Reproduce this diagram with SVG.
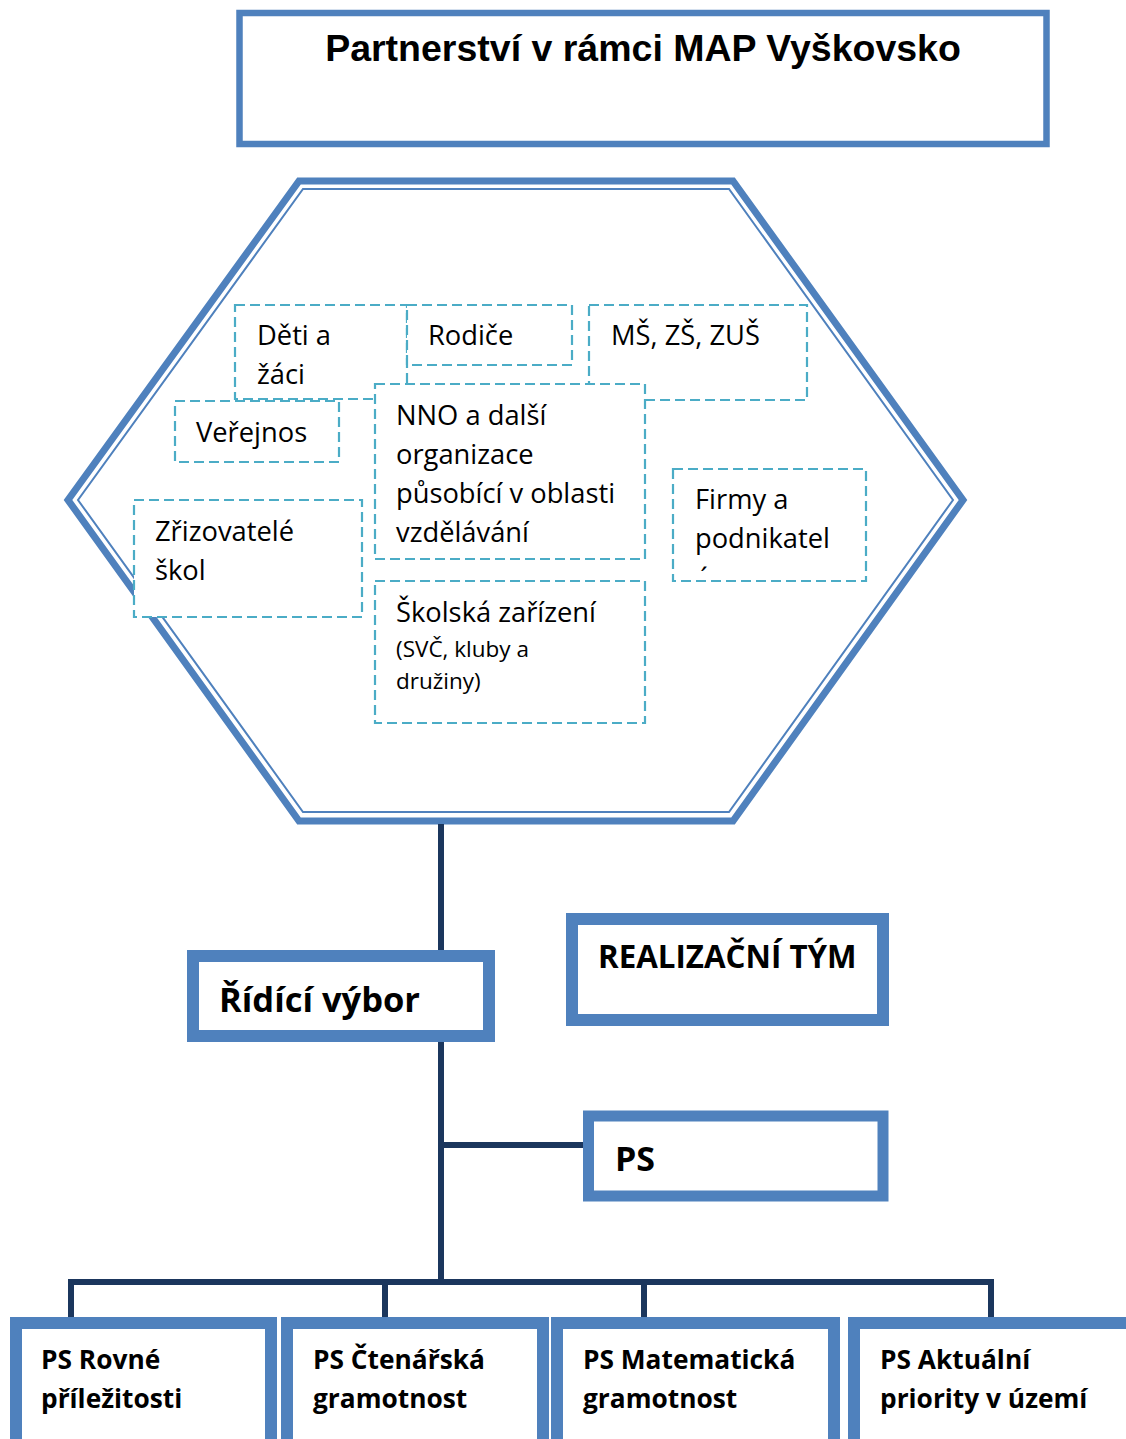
<svg xmlns="http://www.w3.org/2000/svg" width="1126" height="1439" viewBox="0 0 1126 1439">
<style>
.box{fill:#fff;stroke:#4F81BD}
.dash{fill:#fff;stroke:#4BACC6;stroke-width:2.2;stroke-dasharray:10 5}
.t{font-family:"Open Sans","Noto Sans",sans-serif;font-size:27.3px;fill:#000}
.ts{font-family:"Open Sans","Noto Sans",sans-serif;font-size:22.5px;fill:#000}
.tb{font-family:"Open Sans","Noto Sans",sans-serif;font-weight:bold;fill:#000}
.conn{stroke:#1B365D;stroke-width:6;fill:none}
</style>
<defs>
<clipPath id="firmyClip"><rect x="673" y="469" width="193" height="104"/></clipPath>
</defs>
<rect width="1126" height="1439" fill="#fff"/>

<g id="title">
<rect class="box" x="239.5" y="13" width="807" height="131" stroke-width="6.5"/>
<text x="643" y="61" text-anchor="middle" style="font-family:'Liberation Sans',Arial,sans-serif;font-weight:bold;font-size:37.5px">Partnerství v rámci MAP Vyškovsko</text>
</g>

<g id="hexagon">
<polygon points="299,181 733,181 963,500 733,821 299,821 68,500" fill="#fff" stroke="#4F81BD" stroke-width="7" stroke-linejoin="miter"/>
<polygon points="303,189 729,189 953,500 729,812 303,812 78,500" fill="none" stroke="#4F81BD" stroke-width="2"/>
</g>

<g id="deti">
<rect class="dash" x="235" y="305" width="172" height="94"/>
<text class="t" x="257" y="345">Děti a</text>
<text class="t" x="257" y="384">žáci</text>
</g>
<g id="rodice">
<rect class="dash" x="407" y="305" width="165" height="60"/>
<text class="t" x="428" y="345">Rodiče</text>
</g>
<g id="ms">
<rect class="dash" x="589" y="305" width="218" height="95"/>
<text class="t" x="611" y="345">MŠ, ZŠ, ZUŠ</text>
</g>
<g id="verejnos">
<rect class="dash" x="175" y="401" width="164" height="61"/>
<text class="t" x="196" y="442">Veřejnos</text>
</g>
<g id="nno">
<rect class="dash" x="375" y="384" width="270" height="175"/>
<text class="t" x="396" y="425">NNO a další</text>
<text class="t" x="396" y="464">organizace</text>
<text class="t" x="396" y="503">působící v oblasti</text>
<text class="t" x="396" y="542">vzdělávání</text>
</g>
<g id="zrizovatele">
<rect class="dash" x="134" y="500" width="228" height="117"/>
<text class="t" x="155" y="541">Zřizovatelé</text>
<text class="t" x="155" y="580">škol</text>
</g>
<g id="skolska">
<rect class="dash" x="375" y="581" width="270" height="142"/>
<text class="t" x="396" y="622">Školská zařízení</text>
<text class="ts" x="396" y="657">(SVČ, kluby a</text>
<text class="ts" x="396" y="689">družiny)</text>
</g>
<g id="firmy">
<rect class="dash" x="673" y="469" width="193" height="112"/>
<text class="t" x="695" y="509">Firmy a</text>
<text class="t" x="695" y="548">podnikatel</text>
<text class="t" x="695" y="588" clip-path="url(#firmyClip)">é</text>
</g>

<g id="connectors">
<line class="conn" x1="441" y1="824" x2="441" y2="950"/>
<line class="conn" x1="441" y1="1042" x2="441" y2="1282"/>
<line class="conn" x1="441" y1="1145" x2="584" y2="1145"/>
<line class="conn" x1="68" y1="1282" x2="994" y2="1282" stroke-width="7"/>
<line class="conn" x1="71" y1="1282" x2="71" y2="1319"/>
<line class="conn" x1="385" y1="1282" x2="385" y2="1319"/>
<line class="conn" x1="644" y1="1282" x2="644" y2="1319"/>
<line class="conn" x1="991" y1="1282" x2="991" y2="1319"/>
</g>

<g id="ridici">
<rect class="box" x="193" y="956" width="296" height="80" stroke-width="12"/>
<text class="tb" x="219" y="1012" font-size="34.5">Řídící výbor</text>
</g>
<g id="realizacni">
<rect class="box" x="572" y="919" width="311" height="101" stroke-width="12"/>
<text class="tb" x="598" y="968" font-size="31.3">REALIZAČNÍ TÝM</text>
</g>
<g id="ps">
<rect class="box" x="588.5" y="1116" width="294.5" height="80" stroke-width="11"/>
<text class="tb" x="615" y="1171" font-size="34">PS</text>
</g>

<g id="ps1">
<rect class="box" x="16" y="1323" width="255" height="140" stroke-width="12"/>
<text class="tb" x="41" y="1369" font-size="26.3">PS Rovné</text>
<text class="tb" x="41" y="1408" font-size="26.3">příležitosti</text>
</g>
<g id="ps2">
<rect class="box" x="287" y="1323" width="256" height="140" stroke-width="12"/>
<text class="tb" x="313" y="1369" font-size="26.3">PS Čtenářská</text>
<text class="tb" x="313" y="1408" font-size="26.3">gramotnost</text>
</g>
<g id="ps3">
<rect class="box" x="557" y="1323" width="277" height="140" stroke-width="12"/>
<text class="tb" x="583" y="1369" font-size="26.3">PS Matematická</text>
<text class="tb" x="583" y="1408" font-size="26.3">gramotnost</text>
</g>
<g id="ps4">
<rect class="box" x="854" y="1323" width="280" height="140" stroke-width="12"/>
<text class="tb" x="880" y="1369" font-size="26.3">PS Aktuální</text>
<text class="tb" x="880" y="1408" font-size="26.3">priority v území</text>
</g>
</svg>
